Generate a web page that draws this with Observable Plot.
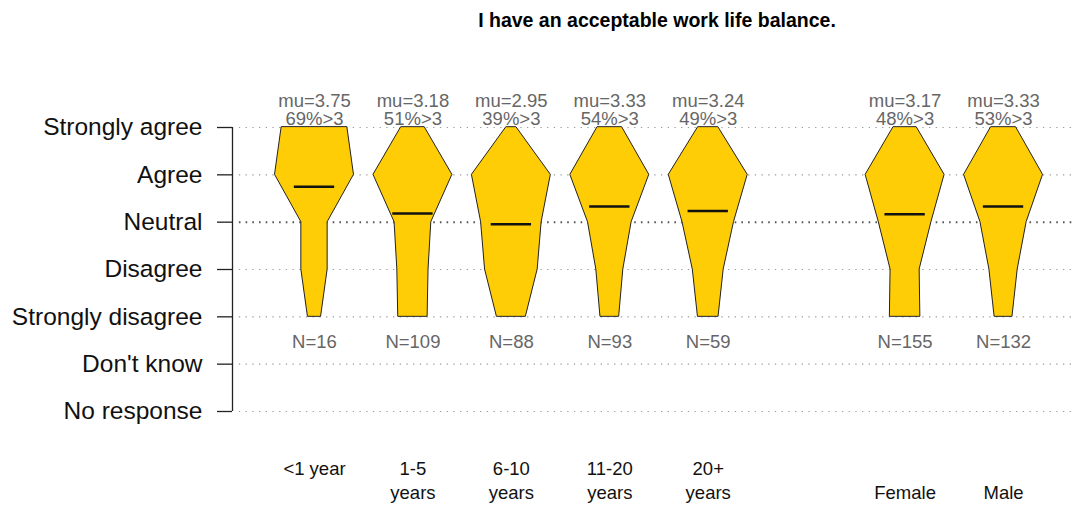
<!DOCTYPE html>
<html>
<head>
<meta charset="utf-8">
<script src="https://cdn.jsdelivr.net/npm/d3@7"></script>
<script src="https://cdn.jsdelivr.net/npm/@observablehq/plot@0.6"></script>
<style>
  html, body { margin: 0; padding: 0; background: #fff; }
  #wrap { position: relative; width: 1075px; height: 506px; font-family: "Liberation Sans", Arial, sans-serif; }
  #title { position: absolute; top: 9px; left: 232px; width: 850px; text-align: center; font-weight: bold; font-size: 19.5px; color: #000; }
  #chart { position: absolute; top: 0; left: 0; }
</style>
</head>
<body>
<div id="wrap">
  <div id="chart"></div>
  <div id="title">I have an acceptable work life balance.</div>
</div>
<script>
// ---- Data (counts of responses per group) ----
const groups = ["<1 year", "1-5\nyears", "6-10\nyears", "11-20\nyears", "20+\nyears", "Female", "Male"];
const groupSet = ["tenure", "tenure", "tenure", "tenure", "tenure", "gender", "gender"];
const stronglyAgree    = [5, 13, 4, 12, 6, 17, 17];
const agree            = [6, 43, 30, 38, 23, 57, 53];
const neutral          = [2, 20, 23, 21, 15, 38, 31];
const disagree         = [2, 17, 20, 13, 9, 21, 19];
const stronglyDisagree = [1, 16, 11, 9, 6, 22, 12];
const levelLabels = ["No response", "Don't know", "Strongly disagree", "Disagree", "Neutral", "Agree", "Strongly agree"];
const levelValues = [-1, 0, 1, 2, 3, 4, 5];

// ---- Derived ----
const gold = "#FFCD05";
const maxHalf = 0.401; // half of the widest violin, in x units
const xDomain = [0.167, 8.731];

const G = groups.map((g, i) => {
  // slot position: a blank slot separates the two sets of groups
  const pos = groupSet[i] === "tenure" ? i + 1 : i + 2;
  const counts = [stronglyAgree[i], agree[i], neutral[i], disagree[i], stronglyDisagree[i]];
  const lv = [5, 4, 3, 2, 1];
  const n = d3.sum(counts);
  const mu = d3.sum(counts, (c, k) => c * lv[k]) / n;
  const pct = Math.round(100 * (counts[0] + counts[1]) / n);
  const mx = d3.max(counts);
  return {group: g, set: groupSet[i], pos, counts, lv, n, mu, pct, mx};
});

const shape = G.flatMap(d => d.counts.map((c, k) => ({
  group: d.group, y: d.lv[k],
  x1: d.pos - c / d.mx * maxHalf,
  x2: d.pos + c / d.mx * maxHalf
})));

const font = "'Liberation Sans', Arial, sans-serif";
const grey = "#666666";

const plot = Plot.plot({
  width: 1075,
  height: 506,
  marginTop: 127,
  marginBottom: 95,
  marginLeft: 232,
  marginRight: 0,
  style: {fontFamily: font, fontSize: "18px", background: "white", color: "black", overflow: "visible"},
  x: {domain: xDomain, axis: null},
  y: {domain: [-1, 5], axis: null},
  marks: [
    // dotted gridlines
    Plot.ruleY(levelValues.filter(v => v !== 3), {y: d => d, x1: xDomain[0] + 0.07, x2: xDomain[1], stroke: "#9a9a9a", strokeWidth: 1.2, strokeDasharray: "1.3,5.4"}),
    Plot.ruleY([3], {y: d => d, x1: xDomain[0] + 0.07, x2: xDomain[1], stroke: "#555", strokeWidth: 2, strokeDasharray: "1.6,5.1"}),
    // violins
    Plot.areaX(shape, {x1: "x1", x2: "x2", y: "y", z: "group", fill: gold, stroke: "#222", strokeWidth: 1, curve: "linear"}),
    // mean lines
    Plot.ruleY(G, {y: "mu", x1: d => d.pos - 0.205, x2: d => d.pos + 0.205, stroke: "#111", strokeWidth: 2.5}),
    // y axis
    Plot.ruleX([xDomain[0]], {y1: -1, y2: 5, stroke: "#222", strokeWidth: 1.3}),
    Plot.axisY(levelValues, {
      tickSize: 15, tickPadding: 15, tickFormat: v => levelLabels[levelValues.indexOf(v)],
      fontSize: 24.5, stroke: "#222", strokeWidth: 1.3, fill: "#111"
    }),
    // top labels
    Plot.text(G, {x: "pos", y: () => 5, text: d => `mu=${d.mu.toFixed(2)}\n${d.pct}%>3`, lineAnchor: "bottom", lineHeight: 0.93, dy: -3, fontSize: 18.5, fill: grey}),
    // N labels
    Plot.text(G, {x: "pos", y: () => 1, text: d => `N=${d.n}`, lineAnchor: "middle", dy: 25, fontSize: 18.5, fill: grey}),
    // group labels
    Plot.text(G.filter(d => d.set === "tenure"), {x: "pos", y: () => -1, text: "group", lineAnchor: "top", dy: 46, lineHeight: 1.3, fontSize: 18.5, fill: "#111"}),
    Plot.text(G.filter(d => d.set === "gender"), {x: "pos", y: () => -1, text: "group", lineAnchor: "top", dy: 74, fontSize: 18.5, fill: "#111"})
  ]
});
document.getElementById("chart").appendChild(plot);
</script>
</body>
</html>
